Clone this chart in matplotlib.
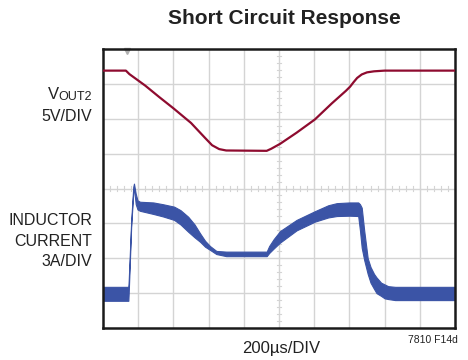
import numpy as np
import matplotlib
matplotlib.use('Agg')
import matplotlib.pyplot as plt

# VOUT2 trace, in scope divisions (x: 0..10, y: 0..8)
vout_x = [0.0, 0.65, 0.75, 0.9, 1.2, 1.6, 2.0, 2.5, 2.9, 3.1, 3.3, 3.5, 4.65,
          4.78, 5.03, 5.5, 6.02, 6.5, 6.9, 7.02, 7.12, 7.22, 7.35, 7.5, 7.7, 8.0, 10.0]
vout_y = [7.38, 7.38, 7.28, 7.17, 6.95, 6.62, 6.30, 5.88, 5.45, 5.24, 5.13, 5.09, 5.08,
          5.14, 5.28, 5.60, 5.98, 6.44, 6.80, 6.92, 7.05, 7.17, 7.27, 7.33, 7.36, 7.38, 7.38]

# inductor current ripple envelope (upper / lower edge of the band)
il_x = [0.0, 0.72, 0.73, 0.80, 0.86, 0.88, 0.93, 0.98, 1.05, 1.43, 1.7, 2.02, 2.2,
        2.42, 2.6, 2.76, 2.9, 3.04, 3.22, 3.5, 4.65, 4.72, 4.85, 5.03, 5.5, 6.02,
        6.4, 6.64, 7.0, 7.25, 7.30, 7.35, 7.42, 7.52, 7.6, 7.7, 7.77, 7.9, 8.0,
        8.1, 8.3, 8.4, 10.0]
il_hi = [1.18, 1.18, 1.35, 3.05, 4.05, 4.14, 3.85, 3.66, 3.62, 3.60, 3.55, 3.48, 3.38,
         3.19, 2.97, 2.71, 2.50, 2.35, 2.21, 2.19, 2.19, 2.35, 2.55, 2.78, 3.10, 3.35,
         3.52, 3.58, 3.60, 3.60, 3.55, 3.45, 2.80, 2.00, 1.75, 1.55, 1.45, 1.30, 1.25,
         1.20, 1.18, 1.18, 1.18]
il_lo = [0.78, 0.78, 1.00, 2.90, 3.90, 4.00, 3.55, 3.40, 3.36, 3.27, 3.20, 3.10, 2.97,
         2.76, 2.60, 2.47, 2.33, 2.24, 2.12, 2.06, 2.06, 2.15, 2.28, 2.45, 2.80, 3.05,
         3.17, 3.21, 3.22, 3.21, 2.80, 2.30, 1.95, 1.55, 1.30, 1.12, 1.00, 0.92, 0.85,
         0.83, 0.80, 0.80, 0.80]

red = '#8e0b2f'
blue = '#3b54a6'
grid_c = '#d4d4d4'
ink = '#222222'
fam = ['Liberation Sans', 'DejaVu Sans']

fig = plt.figure(figsize=(4.68, 3.6), dpi=100)
ax = fig.add_axes([103 / 468, 1 - 328 / 360, 352 / 468, 279 / 360])
ax.set_xlim(0, 10)
ax.set_ylim(0, 8)
ax.set_xticks([])
ax.set_yticks([])

# graticule
for gx in range(1, 10):
    ax.axvline(gx, color=grid_c, lw=1.0, zorder=0)
for gy in range(1, 8):
    ax.axhline(gy, color=grid_c, lw=1.0, zorder=0)
for t in np.arange(0.2, 10, 0.2):
    ax.plot([t, t], [3.94, 4.06], color=grid_c, lw=0.8, zorder=0)
for t in np.arange(0.2, 8, 0.2):
    ax.plot([4.94, 5.06], [t, t], color=grid_c, lw=0.8, zorder=0)

for s in ax.spines.values():
    s.set_linewidth(1.8)
    s.set_color('#1a1a1a')

# trigger marker
ax.plot([0.68], [7.93], marker='v', color='#b0b0b0', ms=5, clip_on=False, zorder=1)

ax.fill_between(il_x, il_lo, il_hi, color=blue, lw=0.8, edgecolor=blue, zorder=2)
ax.plot(vout_x, vout_y, color=red, lw=1.6, zorder=3)

fig.text(284 / 468, 1 - 19 / 360, 'Short Circuit Response', ha='center', va='center',
         fontsize=15, fontweight='bold', family=fam, color=ink)

fig.text(59 / 468, 1 - 99 / 360, 'V', ha='right', va='baseline',
         fontsize=12, family=fam, color=ink)
fig.text(92 / 468, 1 - 100 / 360, 'OUT2', ha='right', va='baseline',
         fontsize=9, family=fam, color=ink)
fig.text(92 / 468, 1 - 121 / 360, '5V/DIV', ha='right', va='baseline',
         fontsize=11.5, family=fam, color=ink)

fig.text(92 / 468, 1 - 241 / 360, 'INDUCTOR\nCURRENT\n3A/DIV', ha='right', va='center',
         fontsize=11.5, family=fam, color=ink, linespacing=1.45, multialignment='right')

fig.text(281 / 468, 1 - 349 / 360, '200\u00b5s/DIV', ha='center', va='center',
         fontsize=12, family=fam, color=ink)
fig.text(458 / 468, 1 - 340 / 360, '7810 F14d', ha='right', va='center',
         fontsize=7.5, family=fam, color=ink)

fig.savefig('out.png', dpi=100)
